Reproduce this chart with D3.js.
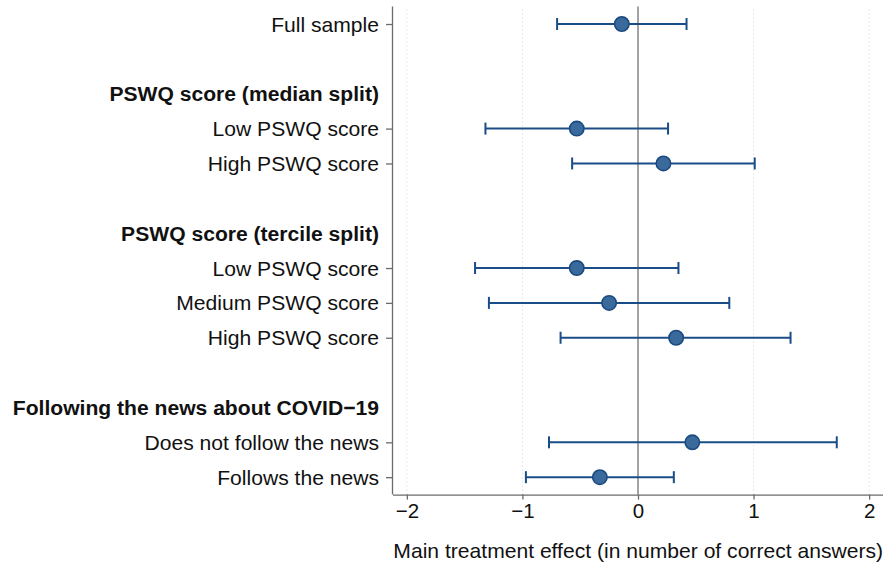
<!DOCTYPE html>
<html>
<head>
<meta charset="utf-8">
<script src="https://cdn.jsdelivr.net/npm/d3@7"></script>
<style>
  html, body { margin: 0; padding: 0; background: #fff; }
  svg { display: block; font-family: "Liberation Sans", Arial, Helvetica, sans-serif; }
</style>
</head>
<body>
<svg id="chart" width="886" height="562"></svg>
<script>
// Row labels, top to bottom (empty string = spacer row)
const rowLabels = [
  "Full sample", "",
  "PSWQ score (median split)", "Low PSWQ score", "High PSWQ score", "",
  "PSWQ score (tercile split)", "Low PSWQ score", "Medium PSWQ score", "High PSWQ score", "",
  "Following the news about COVID\u221219", "Does not follow the news", "Follows the news"
];
// Which rows are group headings
const headerRows = [2, 6, 11];
// Rows that carry an estimate
const estimateRows = [0, 3, 4, 7, 8, 9, 12, 13];
// Point estimates and 95% confidence bounds for those rows
const estimates = [-0.14, -0.53, 0.22, -0.53, -0.25, 0.33, 0.47, -0.33];
const lowerCI   = [-0.70, -1.32, -0.57, -1.41, -1.29, -0.67, -0.77, -0.97];
const upperCI   = [ 0.42,  0.26,  1.01,  0.35,  0.79,  1.32,  1.72,  0.31];
// x-axis ticks and title
const xTicks = [-2, -1, 0, 1, 2];
const xTitle = "Main treatment effect (in number of correct answers)";

const svg = d3.select("#chart");
const plotLeft = 393, plotRight = 883, plotTop = 6.6, plotBottom = 494.6;
const labelSize = 21.1;

const x = d3.scaleLinear().domain([-2.12, 2.12]).range([plotLeft, plotRight]);
const y = d3.scaleLinear().domain([-0.5, rowLabels.length - 0.5]).range([plotTop, plotBottom]);

const lineColor = "#1a4d88";
const markerFill = "#3a6a9c";
const markerStroke = "#1b4a80";

// Dotted vertical grid lines
svg.append("g")
  .selectAll("line")
  .data(xTicks.filter(d => d !== 0))
  .join("line")
  .attr("x1", d => x(d)).attr("x2", d => x(d))
  .attr("y1", plotTop + 3).attr("y2", plotBottom)
  .attr("stroke", "#cfcfcf")
  .attr("stroke-width", 1)
  .attr("stroke-dasharray", "1,3");

// Reference line at zero
svg.append("line")
  .attr("x1", x(0)).attr("x2", x(0))
  .attr("y1", plotTop).attr("y2", plotBottom)
  .attr("stroke", "#8c8c8c")
  .attr("stroke-width", 1.6);

// x axis
const xAxis = svg.append("g")
  .attr("transform", `translate(0,${plotBottom})`)
  .call(d3.axisBottom(x).tickValues(xTicks).tickSize(5).tickPadding(4)
    .tickFormat(d => d < 0 ? "\u2212" + Math.abs(d) : String(d)));
xAxis.select(".domain").attr("stroke", "#6b6b6b").attr("stroke-width", 1.3)
  .attr("d", `M${plotLeft},0.5H${plotRight}`);
xAxis.selectAll(".tick line").attr("stroke", "#6b6b6b").attr("stroke-width", 1.3);
xAxis.selectAll(".tick text").attr("font-size", 20.5).attr("fill", "#111")
  .attr("font-family", "'Liberation Sans', Arial, sans-serif");

// x axis title
svg.append("text")
  .attr("x", plotRight)
  .attr("y", 558)
  .attr("text-anchor", "end")
  .attr("font-size", labelSize)
  .attr("fill", "#111")
  .text(xTitle);

// y axis
const labelled = rowLabels.map((d, i) => i).filter(i => rowLabels[i] !== "");
const yAxis = svg.append("g")
  .attr("transform", `translate(${plotLeft},0)`)
  .call(d3.axisLeft(y).tickValues(estimateRows).tickSize(7).tickFormat(""));
yAxis.select(".domain").attr("stroke", "#6b6b6b").attr("stroke-width", 1.3)
  .attr("d", `M-0.5,${plotTop}V${plotBottom}`);
yAxis.selectAll(".tick line").attr("stroke", "#6b6b6b").attr("stroke-width", 1.3);

// Row labels
svg.append("g")
  .selectAll("text")
  .data(labelled)
  .join("text")
  .attr("x", 379)
  .attr("y", i => y(i))
  .attr("dy", "0.36em")
  .attr("text-anchor", "end")
  .attr("font-size", labelSize)
  .attr("font-weight", i => headerRows.includes(i) ? "bold" : "normal")
  .attr("fill", "#111")
  .text(i => rowLabels[i]);

// Confidence intervals
const rows = estimateRows.map((r, k) => ({ r, est: estimates[k], lo: lowerCI[k], hi: upperCI[k] }));
const ci = svg.append("g");
ci.selectAll("line.ci")
  .data(rows).join("line").attr("class", "ci")
  .attr("x1", d => x(d.lo)).attr("x2", d => x(d.hi))
  .attr("y1", d => y(d.r)).attr("y2", d => y(d.r))
  .attr("stroke", lineColor).attr("stroke-width", 2);
ci.selectAll("line.caplo")
  .data(rows).join("line").attr("class", "caplo")
  .attr("x1", d => x(d.lo)).attr("x2", d => x(d.lo))
  .attr("y1", d => y(d.r) - 6).attr("y2", d => y(d.r) + 6)
  .attr("stroke", lineColor).attr("stroke-width", 2);
ci.selectAll("line.caphi")
  .data(rows).join("line").attr("class", "caphi")
  .attr("x1", d => x(d.hi)).attr("x2", d => x(d.hi))
  .attr("y1", d => y(d.r) - 6).attr("y2", d => y(d.r) + 6)
  .attr("stroke", lineColor).attr("stroke-width", 2);

// Point estimates
svg.append("g")
  .selectAll("circle")
  .data(rows).join("circle")
  .attr("cx", d => x(d.est))
  .attr("cy", d => y(d.r))
  .attr("r", 7.2)
  .attr("fill", markerFill)
  .attr("stroke", markerStroke)
  .attr("stroke-width", 1.6);
</script>
</body>
</html>
